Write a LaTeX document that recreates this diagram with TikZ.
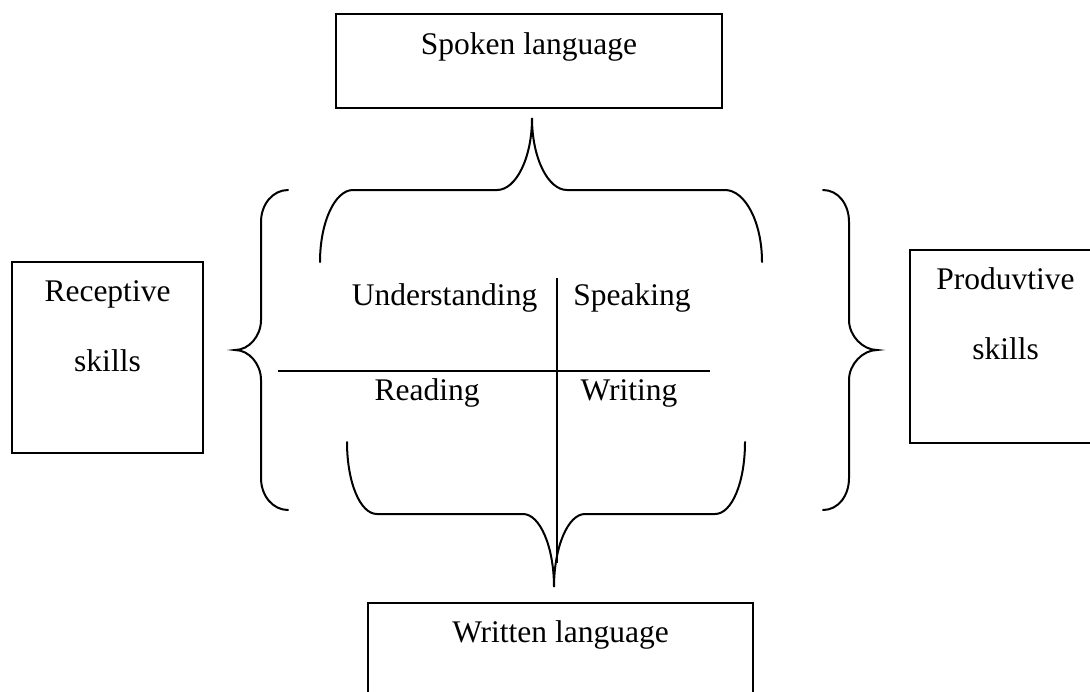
\documentclass[tikz,border=0pt]{standalone}
\usepackage{fontspec}
\setmainfont{Liberation Serif}
\usepackage{tikz}
\usetikzlibrary{positioning}
\tikzstyle{box}=[draw,line width=1pt,inner sep=0pt]
\tikzstyle{txt}=[inner sep=0pt,font=\fontsize{15.75pt}{18pt}\selectfont]
\tikzstyle{brace}=[line width=1pt,line cap=round]

\begin{document}
\begin{tikzpicture}[x=0.5pt,y=-0.5pt]
			\useasboundingbox (0,0) rectangle (1090,691);
			\clip (0,0) rectangle (1090,691);
			% boxes
			\node[box,minimum width=193pt,minimum height=47pt] (spoken) at (529,61) {};
			\node[txt,anchor=base] (spokentxt) at ([yshift=-20.5pt]spoken.north) {Spoken language};
			\node[box,minimum width=192.5pt,minimum height=47pt] (written) at (560.5,650) {};
			\node[txt,anchor=base] (writtentxt) at ([yshift=-20pt]written.north) {Written language};
			\node[box,minimum width=95.5pt,minimum height=95.5pt] (receptive) at (107.5,357.5) {};
			\node[txt,anchor=base] (rectxt) at ([yshift=-20pt]receptive.north) {Receptive};
			\node[txt,anchor=base] (recskills) at ([yshift=-35pt]rectxt.base) {skills};
			\node[box,minimum width=95.5pt,minimum height=96.5pt] (productive) at (1005.5,346.5) {};
			\node[txt,anchor=base] (prodtxt) at ([yshift=-20pt]productive.north) {Produvtive};
			\node[txt,anchor=base] (prodskills) at ([yshift=-35pt]prodtxt.base) {skills};
			% the four skills
			\node[txt,anchor=base] (underst) at (444.5,305) {Understanding};
			\node[txt,anchor=base] (speak) at (632,305) {Speaking};
			\node[txt,anchor=base] (read) at (427,400) {Reading};
			\node[txt,anchor=base] (write) at (629,400) {Writing};
			\coordinate (hl) at (278,371);
			\coordinate (hr) at (710,371);
			\coordinate (vt) at (557,278);
			\coordinate (vb) at (557,563);
			\draw[line width=1pt] (hl) -- (hr);
			\draw[line width=1pt] (vt) -- (vb);
			% braces
			\draw[brace] (320,262) .. controls (320,222) and (335,190) .. (353,190) -- (497,190)
				.. controls (516,190) and (532,158) .. (532,118)
				.. controls (532,158) and (548,190) .. (567,190) -- (725,190)
				.. controls (745,190) and (762,222) .. (762,262);
			\draw[brace] (347,442) .. controls (347,482) and (360,514) .. (377,514) -- (523,514)
				.. controls (540,514) and (554,547) .. (554,587)
				.. controls (554,547) and (568,514) .. (585,514) -- (715,514)
				.. controls (732,514) and (745,482) .. (745,442);
			\draw[brace] (288,190) .. controls (273,190) and (261,204) .. (261,222) -- (261,320)
				.. controls (261,336) and (249,350) .. (235,350)
				.. controls (249,350) and (261,364) .. (261,380) -- (261,478)
				.. controls (261,496) and (273,510) .. (288,510);
			\draw[brace] (823,190) .. controls (838,190) and (849,204) .. (849,222) -- (849,320)
				.. controls (849,336) and (863,350) .. (877,350)
				.. controls (863,350) and (849,364) .. (849,380) -- (849,478)
				.. controls (849,496) and (838,510) .. (823,510);
		\end{tikzpicture}
\end{document}
